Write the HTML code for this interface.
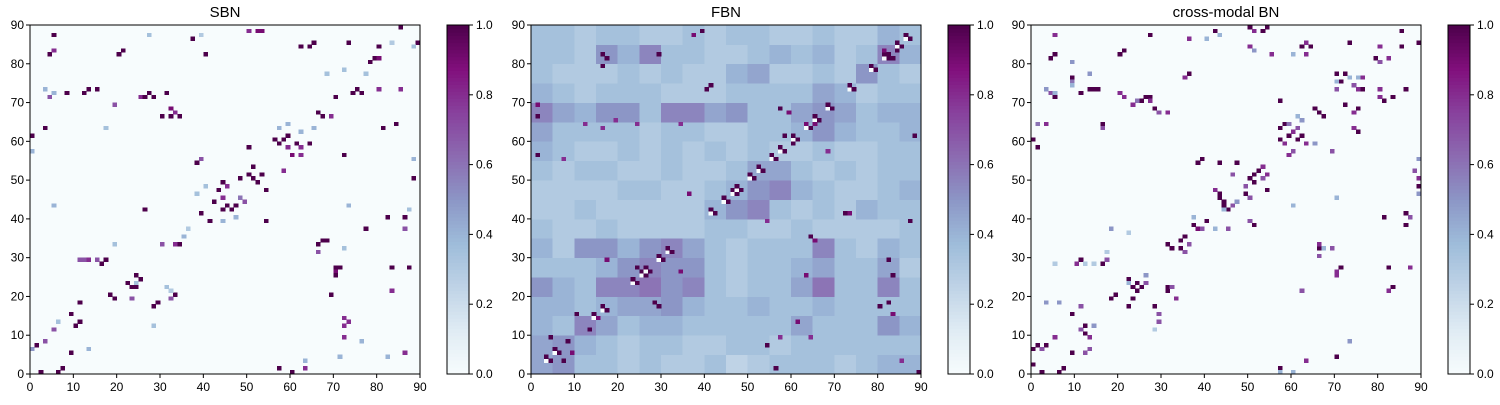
<!DOCTYPE html>
<html><head><meta charset="utf-8"><style>
body{margin:0;background:#fff;width:1500px;height:400px;overflow:hidden}
svg text{font-family:"Liberation Sans",Arial,sans-serif;fill:#000}
</style></head><body>
<svg id="chart" width="1500" height="400" xmlns="http://www.w3.org/2000/svg"></svg>
<script>
const titles=["SBN","FBN","cross-modal BN"];
const axisTicks=[0,10,20,30,40,50,60,70,80,90];
const cbarTicks=[0,0.2,0.4,0.6,0.8,1.0];
const sbnCells=[[5,87,1],[4,82,1],[5,83,.8],[21,83,1],[20,82,1],[37,86,1],[40,82,1],[53,88,.9],[50,88,.8],[52,88,.9],[62,84,1],[64,84,1],[65,85,1],[73,85,1],[80,84,1],[89,85,1],[85,89,1],[78,80,1],[79,81,1],[80,81,.9],
[8,72,1],[12,72,1],[13,73,1],[15,73,1],[27,72,1],[31,72,1],[75,73,1],[74,72,1],[76,72,1],[70,71,1],[85,73,.8],[80,73,.8],[25,71,.8],[26,71,1],[28,71,1],[4,71,.7],[19,69,.7],
[30,66,1],[32,66,1],[34,66,1],[33,67,.8],[32,68,.9],[3,63,1],[0,61,1],[81,63,1],[84,64,1],[66,67,1],[67,66,1],[69,66,.8],
[56,60,1],[57,59,1],[58,60,1],[59,61,1],[61,59,1],[62,58,.8],[59,58,.8],[60,56,.9],[62,56,.8],[64,59,1],[50,58,1],[72,56,1],[58,52,.8],
[38,54,1],[39,55,.7],[50,51,1],[51,50,1],[48,50,1],[52,49,1],[53,51,1],[51,53,1],[54,47,1],[44,49,1],[45,48,.8],[43,47,1],[42,44,1],[44,45,.8],[45,43,1],[46,42,1],[44,42,1],[47,43,1],[48,45,.6],[49,44,.7],[39,41,1],[41,39,1],[26,42,1],[54,39,1],[77,37,1],[82,40,1],[86,40,1],[86,37,.7],[88,50,1],
[33,33,.8],[34,33,1],[30,33,.7],[66,33,1],[67,34,1],[68,34,1],[66,31,.7],[11,29,.7],[12,29,.7],[13,29,.8],[15,29,.7],[16,28,1],[17,29,1],
[24,25,1],[25,24,1],[23,22,1],[24,22,1],[22,23,1],[70,26,.9],[70,25,1],[70,27,1],[71,27,1],[83,27,1],[87,27,1],[69,20,1],[83,21,.8],
[18,20,1],[19,19,1],[33,20,1],[32,19,.7],[23,19,.7],[28,17,1],[29,18,1],[11,18,1],[9,15,1],[11,13,1],[10,12,1],[5,11,.7],[72,14,.8],[73,13,.8],[72,12,.8],[72,9,.8],
[1,7,1],[3,8,.7],[0,6,.5],[9,5,1],[86,5,.8],[2,0,1],[6,0,1],[7,1,1],[57,1,1],[60,0,1],[63,1,.8],
[3,73,.4],[5,72,.4],[27,87,.35],[39,87,.3],[65,63,.4],[62,62,.4],[59,64,.4],[57,63,.4],[40,48,.35],[38,46,.35],[47,40,.4],[44,39,.4],[36,37,.3],[35,35,.4],[19,33,.35],[24,23,.35],[31,22,.35],[32,21,.3],[5,43,.4],[0,57,.4],[17,63,.35],[68,77,.35],[72,78,.35],[77,77,.35],[72,32,.35],[28,12,.35],[6,13,.35],[13,6,.4],[63,3,.4],[71,4,.4],[82,4,.4],[88,55,.4],[87,42,.35],[73,43,.4],[83,85,.3],[88,84,.35],[76,8,.4]];
const cmCells=[[57,1,1],[63,3,.8],[70,4,1],[2,0,1],[6,0,1],[7,1,1],[0,2,1],[9,5,1],[3,7,1],[1,7,1],[0,6,1],[2,6,.7],[13,6,.7],[12,5,.7],[12,10,1],[13,9,.8],[11,11,.7],[12,12,1],[11,17,.7],[9,15,1],[5,9,.8],
[18,19,1],[19,20,1],[22,17,1],[23,19,1],[24,21,1],[23,22,1],[24,23,1],[22,24,1],[25,22,1],[26,23,.7],[31,21,1],[31,22,1],[32,22,.7],[33,19,.8],[28,17,1],[29,15,.7],[29,13,.7],
[11,29,1],[10,28,.8],[14,28,.7],[16,28,1],[17,29,.7],[31,33,1],[32,32,1],[34,34,1],[35,35,1],[36,33,.7],[34,32,1],[35,31,.7],[38,37,.9],[37,38,1],[40,39,1],[39,37,.7],[45,37,.7],[51,38,1],[50,39,.7],
[42,47,.8],[43,46,1],[44,44,1],[43,45,1],[44,43,1],[45,42,1],[46,43,.7],[47,44,.7],[50,45,.7],[49,46,1],[54,47,1],[50,50,1],[51,51,1],[52,52,1],[53,50,.7],[49,48,.7],[54,51,.8],[46,51,.7],[51,49,1],
[38,54,1],[39,55,1],[47,54,1],[43,54,1],[53,53,.8],[57,63,1],[58,64,1],[57,60,1],[58,59,.8],[59,61,1],[60,62,.8],[61,60,1],[62,61,1],[61,63,.7],[63,59,.8],[60,57,.7],[59,56,.8],[69,57,.7],[59,64,.6],
[66,67,1],[67,66,1],[65,68,1],[57,70,1],[75,68,1],[74,67,.8],[74,63,.8],[75,62,1],[0,60,1],[1,58,1],[3,64,.8],[1,64,.6],[16,64,1],[16,63,.7],
[27,71,1],[28,68,1],[27,70,.8],[29,67,.7],[31,67,.8],[13,73,1],[14,73,1],[15,73,1],[11,72,1],[4,72,.7],[5,71,1],[20,72,.8],[21,71,.8],[26,71,1],[24,70,.6],[25,70,1],[23,69,.8],
[9,76,1],[9,75,.6],[9,74,.4],[5,82,1],[4,81,1],[21,83,1],[20,82,1],[5,87,.8],[27,87,1],[36,77,1],[35,76,.8],[42,88,1],[36,86,.8],[40,86,1],[50,89,1],[51,88,.8],[53,88,1],[54,89,1],
[50,84,.8],[62,84,1],[64,84,1],[63,85,.8],[73,85,1],[80,84,.8],[85,84,1],[89,85,1],[55,82,.8],[63,82,.8],[79,81,1],[80,80,.7],[82,81,.8],[85,88,1],
[70,77,1],[72,77,1],[71,75,1],[76,76,.8],[80,73,.8],[81,70,1],[76,73,1],[74,74,.7],[75,73,.8],[70,73,.7],[72,69,1],[83,71,1],[80,71,.8],[86,73,1],
[89,48,1],[89,50,.8],[88,52,.7],[86,41,1],[87,40,.7],[81,40,1],[86,38,1],[82,27,1],[87,27,.8],[83,22,1],[82,21,.8],[71,27,1],[70,26,.8],[70,25,.8],[66,32,1],[67,32,.8],[66,33,.8],[66,30,.7],[69,32,.7],[62,21,.7],
[3,73,.5],[5,72,.4],[13,77,.5],[9,80,.5],[40,86,.4],[43,87,.4],[51,83,.5],[60,82,.4],[65,59,.5],[62,65,.5],[61,66,.4],[70,75,.4],[73,76,.4],[75,76,.4],[18,37,.5],[22,36,.3],[12,28,.3],[14,28,.3],[5,28,.3],[3,18,.5],[6,18,.5],[17,31,.3],[22,23,.4],[26,25,.5],[14,12,.5],[28,11,.3],[57,0,.4],[60,0,.4],[73,8,.5],[47,44,.5],[44,42,.4],[37,40,.4],[42,37,.4],[60,43,.4],[89,55,.5],[89,46,.5],[70,45,.4],[67,32,.4]];
const fbnBlocks=[
[.45,.5,.35,.35,.3,.35,.3,.3,.35,.25,.3,.35,.35,.35,.3,.35,.4,.4],
[.45,.5,.4,.35,.3,.35,.35,.3,.3,.35,.35,.3,.35,.35,.35,.35,.35,.35],
[.4,.35,.55,.45,.35,.4,.4,.35,.35,.35,.35,.35,.45,.35,.35,.35,.5,.4],
[.4,.4,.35,.4,.45,.45,.5,.4,.35,.35,.4,.35,.35,.4,.35,.35,.35,.35],
[.5,.4,.35,.55,.55,.6,.5,.55,.35,.3,.35,.35,.45,.6,.35,.35,.55,.35],
[.35,.35,.35,.4,.5,.55,.5,.5,.35,.3,.35,.35,.4,.45,.35,.35,.45,.3],
[.4,.3,.5,.5,.4,.5,.55,.45,.35,.3,.35,.35,.35,.55,.35,.3,.4,.35],
[.35,.3,.3,.35,.3,.3,.3,.3,.35,.35,.3,.3,.35,.3,.3,.3,.3,.35],
[.3,.3,.35,.3,.3,.3,.3,.3,.4,.5,.55,.35,.3,.35,.3,.4,.35,.35],
[.3,.3,.3,.3,.35,.35,.3,.3,.35,.4,.5,.55,.4,.35,.3,.3,.35,.4],
[.35,.3,.35,.35,.3,.3,.35,.3,.3,.35,.45,.45,.35,.3,.35,.3,.35,.35],
[.4,.35,.3,.3,.35,.3,.35,.3,.35,.3,.35,.3,.3,.35,.3,.3,.35,.35],
[.45,.35,.35,.35,.35,.3,.35,.35,.3,.3,.35,.35,.4,.5,.4,.35,.35,.4],
[.55,.45,.4,.5,.5,.35,.55,.55,.45,.5,.35,.35,.45,.5,.45,.35,.4,.4],
[.4,.35,.3,.35,.35,.35,.3,.3,.3,.35,.35,.35,.35,.45,.4,.3,.35,.35],
[.35,.3,.3,.3,.35,.3,.35,.3,.3,.4,.45,.3,.3,.35,.3,.5,.35,.3],
[.35,.35,.3,.5,.4,.55,.35,.35,.3,.3,.35,.4,.35,.4,.3,.35,.55,.4],
[.35,.35,.3,.35,.35,.3,.3,.35,.3,.35,.35,.3,.3,.35,.3,.3,.4,.35]];
const fbnDiagDark=[3,5,14,16,23,25,26,29,31,41,44,46,47,50,52,55,57,60,63,65,68,73,78,81,84,86];
const fbnExtraDark=[[39,88,1],[37,87,.9],[16,82,1],[17,81,1],[29,82,1],[16,79,1],[40,73,1],[41,74,1],[1,69,.9],[1,66,1],[1,56,1],[12,64,.8],[16,63,.8],[19,65,.8],[24,64,.8],[34,64,.8],[88,61,1],[57,68,1],[59,67,.9],[63,64,.9],[65,64,.9],[58,61,1],[60,59,1],[68,57,.8],[7,55,.8],[36,46,.9],[54,39,.8],[72,41,1],[73,41,.9],[87,39,1],[64,35,1],[65,34,.9],[17,29,.9],[24,27,1],[34,26,.9],[82,29,1],[83,25,1],[63,25,.9],[29,17,1],[80,17,1],[83,15,.9],[13,11,1],[10,15,1],[15,14,.9],[4,9,1],[8,8,1],[9,5,.9],[7,3,1],[56,1,1],[89,0,1],[61,13,.9],[57,9,.8],[54,7,1],[64,9,.8],[85,3,.8],[82,82,1],[83,81,1],[84,83,1],[81,83,.9],[28,18,1],[82,18,1]];

const stops=[[0,[247,252,253]],[.125,[224,236,244]],[.25,[191,211,230]],[.375,[158,188,218]],[.5,[140,150,198]],[.625,[140,107,177]],[.75,[136,65,157]],[.875,[129,15,124]],[1,[77,0,75]]];
function cmap(v){v=Math.max(0,Math.min(1,v));for(let i=1;i<stops.length;i++){if(v<=stops[i][0]){const a=stops[i-1],b=stops[i];const t=(v-a[0])/(b[0]-a[0]);const c=a[1].map((x,k)=>Math.round(x+(b[1][k]-x)*t));return `rgb(${c[0]},${c[1]},${c[2]})`;}}return 'rgb(77,0,75)';}
const NS='http://www.w3.org/2000/svg';
const svg=document.getElementById('chart');
function mk(tag,attrs,parent){const e=document.createElementNS(NS,tag);for(const k in attrs)e.setAttribute(k,attrs[k]);(parent||svg).appendChild(e);return e;}
const PW=390,PH=349,TOP=25;
const lefts=[30,531,1031],cbLefts=[447,948,1448];
function panel(p,fill){
  const L=lefts[p];
  const xs=v=>L+v/90*PW, ys=v=>TOP+PH-v/90*PH;
  const g=mk('g',{});
  
  
  mk('rect',{x:L,y:TOP,width:PW,height:PH,fill:cmap(0)},g);
  const cells=mk('g',{'shape-rendering':'crispEdges'},g);
  
  
  const cell=(x,y,v,w,h)=>{w=w||1;h=h||1;const r=mk('rect',{x:xs(x),y:ys(y+h),width:xs(x+w)-xs(x)+0.4,height:ys(y)-ys(y+h)+0.4,fill:cmap(v)},cells);};
  fill(cell);
  mk('rect',{x:L,y:TOP,width:PW,height:PH,fill:'none',stroke:'#000','stroke-width':1},g);
  const t=mk('text',{x:L+PW/2,y:17,'text-anchor':'middle','font-size':15},g);t.textContent=titles[p];
  
  axisTicks.forEach(v=>{
    mk('line',{x1:xs(v),x2:xs(v),y1:TOP+PH,y2:TOP+PH+4,stroke:'#000'},g);
    const tx=mk('text',{x:xs(v),y:TOP+PH+17,'text-anchor':'middle','font-size':12},g);tx.textContent=v;
    
    mk('line',{x1:L-4,x2:L,y1:ys(v),y2:ys(v),stroke:'#000'},g);
    const ty=mk('text',{x:L-6,y:ys(v)+4,'text-anchor':'end','font-size':12},g);ty.textContent=v;
    
  });
  const C=cbLefts[p],CW=22;
  const cb=mk('g',{},g);
  
  for(let i=0;i<100;i++){const v=i/100;mk('rect',{x:C,y:TOP+PH-(i+1)/100*PH,width:CW,height:PH/100+0.6,fill:cmap(v+0.005)},cb);}
  mk('rect',{x:C,y:TOP,width:CW,height:PH,fill:'none',stroke:'#000'},cb);
  cbarTicks.forEach(v=>{const y=TOP+PH-v*PH;mk('line',{x1:C+CW,x2:C+CW+4,y1:y,y2:y,stroke:'#000'},cb);
    const tt=mk('text',{x:C+CW+7,y:y+4,'font-size':12},cb);tt.textContent=v.toFixed(1);
    });
}
panel(0,cell=>sbnCells.forEach(c=>cell(c[0],c[1],c[2])));
panel(1,cell=>{
  fbnBlocks.forEach((row,r)=>row.forEach((v,c)=>cell(c*5,r*5,v,5,5)));
  fbnDiagDark.forEach(i=>{cell(i,i,0);cell(i,i+1,1);cell(i+1,i,1);});
  fbnExtraDark.forEach(c=>cell(c[0],c[1],c[2]));
});
panel(2,cell=>cmCells.forEach(c=>cell(c[0],c[1],c[2])));
</script>
</body></html>
